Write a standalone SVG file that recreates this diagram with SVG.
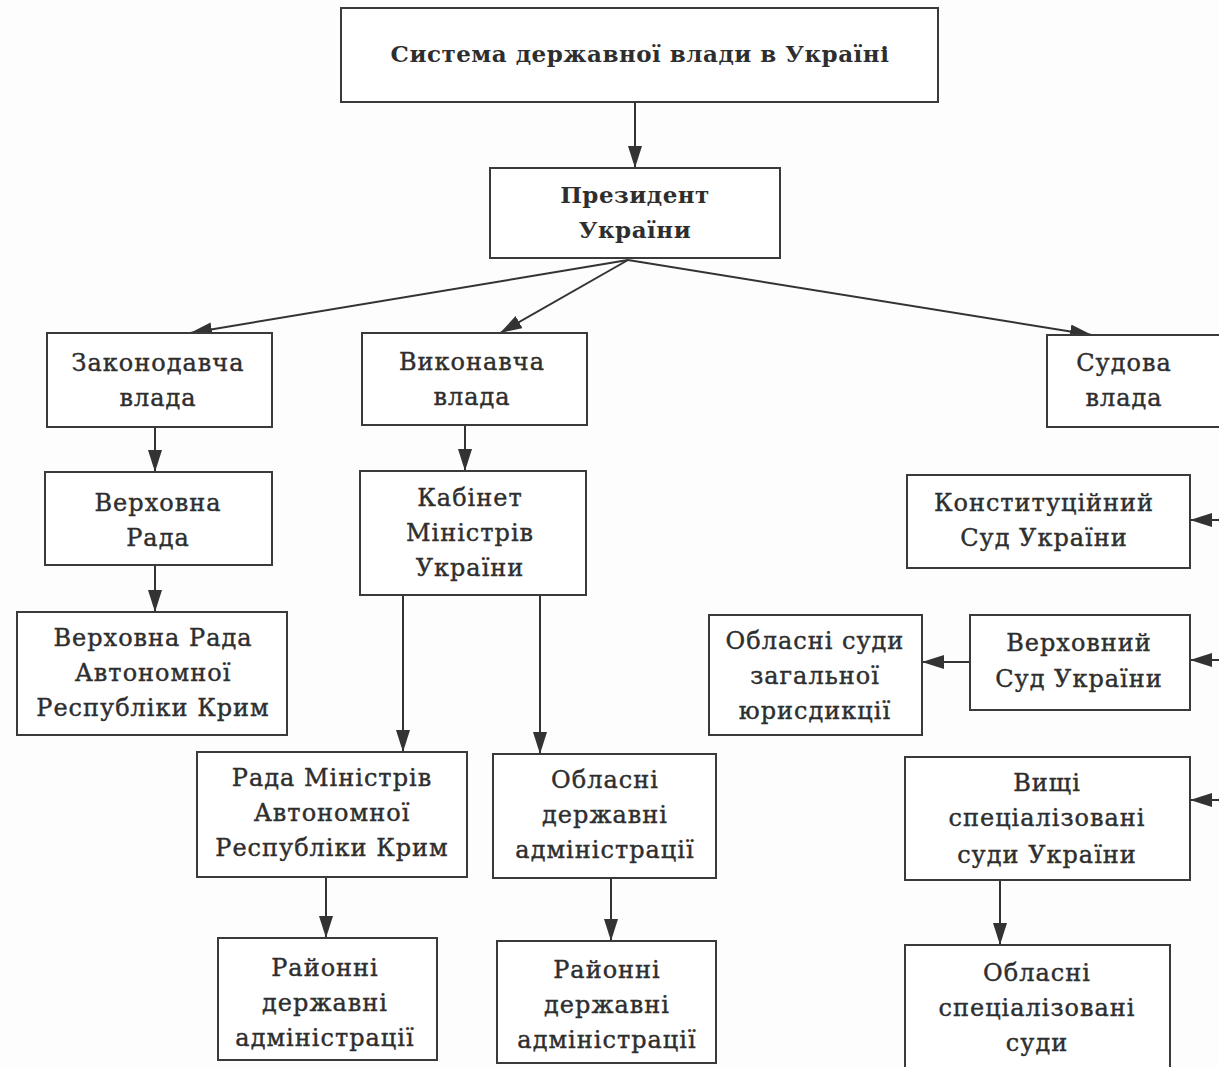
<svg xmlns="http://www.w3.org/2000/svg" width="1219" height="1067" viewBox="0 0 1219 1067">
<style>
.box{fill:#fff;stroke:#3a3a3a;stroke-width:2}
.t{font-family:"DejaVu Serif","Liberation Serif",serif;font-size:24px;letter-spacing:1px;fill:#2e2e2e;stroke:#2e2e2e;stroke-width:0.4px;text-anchor:middle}
.b{font-weight:bold;font-size:23px;letter-spacing:0.5px;stroke-width:0}
.c{stroke:#333;stroke-width:2;fill:none;marker-end:url(#ah)}
</style>
<defs>
<marker id="ah" markerUnits="userSpaceOnUse" markerWidth="24" markerHeight="16" refX="22" refY="7" orient="auto">
<path d="M0,0 L22,7 L0,14 z" fill="#333"/>
</marker>
</defs>
<rect width="1219" height="1067" fill="#fdfdfd"/>
<g id="connectors">
<line class="c" x1="635" y1="102" x2="635" y2="168"/>
<line class="c" x1="628" y1="260" x2="190" y2="333"/>
<line class="c" x1="628" y1="260" x2="500" y2="333"/>
<line class="c" x1="628" y1="260" x2="1092" y2="335"/>
<line class="c" x1="155" y1="427" x2="155" y2="472"/>
<line class="c" x1="155" y1="565" x2="155" y2="612"/>
<line class="c" x1="465" y1="425" x2="465" y2="471"/>
<line class="c" x1="403" y1="595" x2="403" y2="752"/>
<line class="c" x1="540" y1="595" x2="540" y2="754"/>
<line class="c" x1="326" y1="877" x2="326" y2="938"/>
<line class="c" x1="611" y1="878" x2="611" y2="941"/>
<line class="c" x1="1230" y1="520" x2="1190" y2="520"/>
<line class="c" x1="1230" y1="660" x2="1190" y2="660"/>
<line class="c" x1="1230" y1="800" x2="1190" y2="800"/>
<line class="c" x1="970" y1="662" x2="922" y2="662"/>
<line class="c" x1="1000" y1="880" x2="1000" y2="945"/>
</g>
<g id="n-system"><rect class="box" x="341" y="8" width="597" height="94"/><text class="t b" x="640" y="62">Система державної влади в Україні</text></g>
<g id="n-president"><rect class="box" x="490" y="168" width="290" height="90"/><text class="t b" x="635" y="203">Президент</text><text class="t b" x="635" y="238">України</text></g>
<g id="n-leg"><rect class="box" x="47" y="333" width="225" height="94"/><text class="t" x="158" y="371">Законодавча</text><text class="t" x="158" y="406">влада</text></g>
<g id="n-exec"><rect class="box" x="362" y="333" width="225" height="92"/><text class="t" x="472" y="370">Виконавча</text><text class="t" x="472" y="405">влада</text></g>
<g id="n-jud"><rect class="box" x="1047" y="335" width="180" height="92"/><text class="t" x="1124" y="371">Судова</text><text class="t" x="1124" y="406">влада</text></g>
<g id="n-vr"><rect class="box" x="45" y="472" width="227" height="93"/><text class="t" x="158" y="511">Верховна</text><text class="t" x="158" y="546">Рада</text></g>
<g id="n-vrark"><rect class="box" x="17" y="612" width="270" height="123"/><text class="t" x="153" y="646">Верховна Рада</text><text class="t" x="153" y="681">Автономної</text><text class="t" x="153" y="716">Республіки Крим</text></g>
<g id="n-kmu"><rect class="box" x="360" y="471" width="226" height="124"/><text class="t" x="470" y="506">Кабінет</text><text class="t" x="470" y="541">Міністрів</text><text class="t" x="470" y="576">України</text></g>
<g id="n-rmark"><rect class="box" x="197" y="752" width="270" height="125"/><text class="t" x="332" y="786">Рада Міністрів</text><text class="t" x="332" y="821">Автономної</text><text class="t" x="332" y="856">Республіки Крим</text></g>
<g id="n-oda"><rect class="box" x="493" y="754" width="223" height="124"/><text class="t" x="605" y="788">Обласні</text><text class="t" x="605" y="823">державні</text><text class="t" x="605" y="858">адміністрації</text></g>
<g id="n-rda1"><rect class="box" x="218" y="938" width="219" height="122"/><text class="t" x="325" y="976">Районні</text><text class="t" x="325" y="1011">державні</text><text class="t" x="325" y="1046">адміністрації</text></g>
<g id="n-rda2"><rect class="box" x="497" y="941" width="219" height="122"/><text class="t" x="607" y="978">Районні</text><text class="t" x="607" y="1013">державні</text><text class="t" x="607" y="1048">адміністрації</text></g>
<g id="n-ksu"><rect class="box" x="907" y="475" width="283" height="93"/><text class="t" x="1044" y="511">Конституційний</text><text class="t" x="1044" y="546">Суд України</text></g>
<g id="n-vsu"><rect class="box" x="970" y="615" width="220" height="95"/><text class="t" x="1079" y="651">Верховний</text><text class="t" x="1079" y="687">Суд України</text></g>
<g id="n-osz"><rect class="box" x="709" y="615" width="213" height="120"/><text class="t" x="815" y="649">Обласні суди</text><text class="t" x="815" y="684">загальної</text><text class="t" x="815" y="719">юрисдикції</text></g>
<g id="n-vssu"><rect class="box" x="905" y="757" width="285" height="123"/><text class="t" x="1047" y="791">Вищі</text><text class="t" x="1047" y="826">спеціалізовані</text><text class="t" x="1047" y="863">суди України</text></g>
<g id="n-oss"><rect class="box" x="905" y="945" width="265" height="125"/><text class="t" x="1037" y="981">Обласні</text><text class="t" x="1037" y="1016">спеціалізовані</text><text class="t" x="1037" y="1051">суди</text></g>
</svg>
